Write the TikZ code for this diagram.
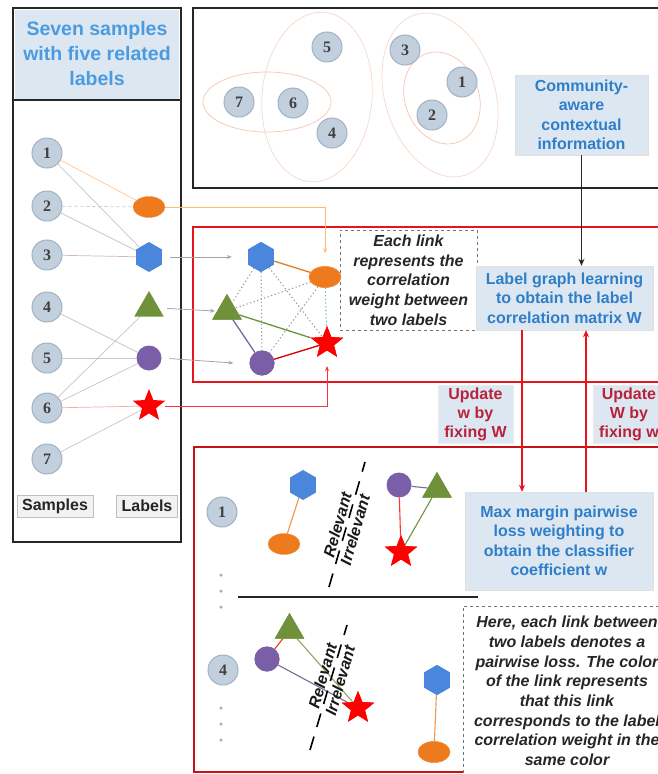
\documentclass[tikz,border=0pt]{standalone}
\usepackage{fontspec}
\setmainfont{Liberation Sans}
\newfontfamily\numfont{Liberation Serif}
\usetikzlibrary{shapes.geometric,arrows.meta}
\definecolor{hdrblue}{HTML}{4A9BE0}
\definecolor{txtblue}{HTML}{2F7FC8}
\definecolor{boxfill}{HTML}{DDE7F2}
\definecolor{sampfill}{HTML}{C2CFDC}
\definecolor{sampdraw}{HTML}{A0B2C4}
\definecolor{lorange}{HTML}{EE7A1E}
\definecolor{lblue}{HTML}{4A86DB}
\definecolor{lgreen}{HTML}{6F9139}
\definecolor{lpurple}{HTML}{7B5EA8}
\definecolor{lred}{HTML}{FF0000}
\definecolor{updred}{HTML}{B8233A}
\definecolor{boxred}{HTML}{E8141C}
\definecolor{ellA}{HTML}{F4C6B4}
\definecolor{ellB}{HTML}{F6D9CB}
\tikzset{
 samp/.style={circle,fill=sampfill,draw=sampdraw,line width=1pt,minimum size=30pt,inner sep=0pt,font=\numfont\bfseries\fontsize{16}{16}\selectfont,text=black!75},
 lo/.style={ellipse,fill=lorange,draw=lorange!80!white,minimum width=32pt,minimum height=21pt,inner sep=0pt},
 lh/.style={regular polygon,regular polygon sides=6,shape border rotate=30,fill=lblue,minimum size=30pt,inner sep=0pt},
 lt/.style={regular polygon,regular polygon sides=3,fill=lgreen,minimum size=34pt,inner sep=0pt},
 lc/.style={circle,fill=lpurple,minimum size=25pt,inner sep=0pt},
 ls/.style={star,star points=5,star point ratio=2.3,fill=lred,minimum size=34pt,inner sep=0pt},
 bluebox/.style={fill=boxfill,draw=black!12,text=txtblue,font=\bfseries\fontsize{16}{19.5}\selectfont,align=center,inner sep=0pt},
 updbox/.style={fill=boxfill,draw=black!8,text=updred,font=\bfseries\fontsize{16}{19}\selectfont,align=center,inner sep=0pt},
 note/.style={draw=black!55,dashed,fill=white,font=\bfseries\itshape\fontsize{16}{19.7}\selectfont,align=center,inner sep=0pt,text=black!85},
 tag/.style={fill=black!5,draw=black!25,font=\bfseries\fontsize{16}{16}\selectfont,inner xsep=5pt,inner ysep=0pt,minimum height=22pt,text=black!85},
 rot/.style={rotate=74,font=\bfseries\itshape\fontsize{16}{16}\selectfont,inner sep=0pt,text=black!90},
 thinl/.style={line width=0.7pt,gray!45},
 dotl/.style={line width=1.1pt,gray!80,dash pattern=on 1.2pt off 2.5pt},
 redln/.style={line width=1.8pt,boxred},
 relline/.style={line width=1.6pt,black,dash pattern=on 14pt off 10pt},
 tinyarrow/.style={-{Stealth[length=5pt,width=4pt]}},
 dotmark/.style={circle,fill=sampdraw,inner sep=0pt,minimum size=3.5pt}
}
\begin{document}
\begin{tikzpicture}[x=1pt,y=-1pt]
\useasboundingbox (0,0) rectangle (658,774);
\fill[white] (0,0) rectangle (658,774);

% ---------- frames ----------
\fill[boxfill] (15,10) rectangle (179,99);
\draw[line width=2.2pt,black!85] (13,8) rectangle (181,542);
\draw[line width=2.2pt,black!85] (13,100) -- (181,100);
\draw[line width=2.5pt,black!85] (193,8) rectangle (672,188);
\draw[line width=2.5pt,boxred] (193,227) rectangle (672,382);
\draw[line width=2.5pt,boxred!85!black] (194,447) rectangle (672,772);

% ---------- left panel ----------
\node[align=center,text=hdrblue,font=\bfseries\fontsize{19.5}{25}\selectfont] (hdr) at (97,54) {Seven samples\\with five related\\labels};

\node[samp] (s1) at (47,153) {1};
\node[samp] (s2) at (47,206) {2};
\node[samp] (s3) at (47,255) {3};
\node[samp] (s4) at (47,307) {4};
\node[samp] (s5) at (47,358) {5};
\node[samp] (s6) at (47,408) {6};
\node[samp] (s7) at (47,459) {7};

\node[lo] (Lo) at (149,207) {};
\node[lh] (Lh) at (149,257) {};
\node[lt] (Lt) at (149,308) {};
\node[lc] (Lc) at (149,358) {};
\node[ls] (Ls) at (149,406) {};

\draw[thinl,orange!45] (s1) -- (Lo);
\draw[thinl] (s1) -- (Lh);
\draw[thinl,dashed] (s2) -- (Lo);
\draw[thinl] (s2) -- (Lh);
\draw[thinl,red!25!gray!45] (s3) -- (Lh);
\draw[thinl] (s4) -- (Lc);
\draw[thinl] (s5) -- (Lc);
\draw[thinl] (s6) -- (Lt);
\draw[thinl] (s6) -- (Lc);
\draw[thinl,red!35] (s6) -- (Ls);
\draw[thinl] (s7) -- (Ls);

\node[tag] (samples) at (55,506) {Samples};
\node[tag] (labels) at (147,506) {Labels};

% ---------- top panel ----------
\draw[ellA,line width=0.7pt] (267,102) ellipse (64 and 30);
\draw[ellB,line width=0.7pt,rotate around={-5:(317,97)}] (317,97) ellipse (55 and 85);
\draw[ellB,line width=0.7pt,rotate around={17:(440,95)}] (440,95) ellipse (55 and 84);
\draw[ellA,line width=0.7pt,rotate around={20:(442,98)}] (442,98) ellipse (37 and 47);

\node[samp] (t5) at (327,47) {5};
\node[samp] (t3) at (405,50) {3};
\node[samp] (t1) at (462,82) {1};
\node[samp] (t7) at (239,102) {7};
\node[samp] (t6) at (293,103) {6};
\node[samp] (t2) at (432,115) {2};
\node[samp] (t4) at (332,133) {4};

\node[bluebox,minimum width=133pt,minimum height=80pt] (comm) at (581.5,115) {Community-\\aware\\contextual\\information};

% ---------- middle panel ----------
\node[note,minimum width=137pt,minimum height=100pt] (note1) at (408.5,280) {Each link\\represents the\\correlation\\weight between\\two labels};

\node[lh] (Mh) at (261,257) {};
\node[lo] (Mo) at (325,277) {};
\node[lt] (Mt) at (227,311) {};
\node[lc] (Mc) at (262,363) {};
\node[ls] (Ms) at (327,343) {};

\draw[dotl] (Mh) -- (Mt);
\draw[dotl] (Mh) -- (Mc);
\draw[dotl] (Mh) -- (Ms);
\draw[dotl] (Mo) -- (Mt);
\draw[dotl] (Mo) -- (Mc);
\draw[dotl,teal!60] (Mo) -- (Ms);
\draw[line width=1.3pt,lorange!80!brown] (Mh) -- (Mo);
\draw[line width=1.3pt,lgreen] (Mt) -- (Ms);
\draw[line width=1.3pt,lpurple!70!gray] (Mt) -- (Mc);
\draw[line width=1.3pt,red!85!black] (Mc) -- (Ms);
\node[lh] at (Mh) {};
\node[lo] at (Mo) {};
\node[lt] at (Mt) {};
\node[lc] at (Mc) {};
\node[ls] at (Ms) {};

% connectors labels -> middle panel
\draw[line width=0.8pt,orange!55,tinyarrow] (Lo.east) -| ([yshift=13pt]Mo.north);
\draw[line width=0.8pt,gray!70,tinyarrow,shorten <=8pt] (Lh.east) -- ([xshift=-16pt]Mh.west);
\draw[line width=0.8pt,gray!70,tinyarrow,shorten <=8pt] (Lt.east) -- ([xshift=-2pt]Mt.west);
\draw[line width=0.8pt,gray!70,tinyarrow,shorten <=8pt] (Lc.east) -- ([xshift=-16pt]Mc.west);
\draw[line width=0.8pt,red!80,tinyarrow,shorten <=6pt] (Ls.east) -| ([yshift=-23pt]Ms.center);

\node[bluebox,minimum width=177pt,minimum height=64pt] (lg) at (564.5,298) {Label graph learning\\to obtain the label\\correlation matrix W};
\draw[line width=1.4pt,black!85,-{Stealth[length=7pt,width=6pt]}] (comm.south) -- (comm.south |- lg.north);

% ---------- update boxes ----------
\node[updbox,minimum width=75pt,minimum height=58pt] (upl) at (475.5,414) {Update\\w by\\fixing W};
\node[updbox,minimum width=72pt,minimum height=58pt] (upr) at (629,414) {Update\\W by\\fixing w};

% ---------- bottom panel ----------
\node[bluebox,minimum width=188pt,minimum height=98pt] (mm) at (559,541) {Max margin pairwise\\loss weighting to\\obtain the classifier\\coefficient w};

\coordinate (xa) at (522,0);
\coordinate (xb) at (586,0);
\draw[redln,-{Stealth[length=7pt,width=6pt]}] (lg.south -| xa) -- (mm.north -| xa);
\draw[redln,-{Stealth[length=7pt,width=6pt]}] (mm.north -| xb) -- (lg.south -| xb);

% sample 1
\node[samp] (b1) at (222,512) {1};
\node[lh] (B1h) at (303,485) {};
\node[lo] (B1o) at (284,544) {};
\node[lc] (B1c) at (399,485) {};
\node[lt] (B1t) at (437,489) {};
\node[ls] (B1s) at (401,552) {};
\draw[line width=1.1pt,lorange!80] (B1h) -- (B1o);
\draw[line width=1.1pt,lpurple!60!gray] (B1c) -- (B1t);
\draw[line width=1.1pt,red!80] (B1c) -- (B1s);
\draw[line width=1.1pt,lgreen] (B1t) -- (B1s);
\node[lt] at (B1t) {};
\node[ls] at (B1s) {};

\coordinate (r1a) at (329,587);
\coordinate (r1b) at (365,462);
\draw[relline] (r1a) -- (r1b);
\node[rot,anchor=south] (rel1) at (343.3,526.6) {Relevant};
\node[rot,anchor=north] (irr1) at (349.1,528.2) {Irrelevant};

\node[dotmark] (d1) at (221,575) {};
\node[dotmark] (d2) at (221,591) {};
\node[dotmark] (d3) at (221,607) {};

\coordinate (hl1) at (238,597);
\coordinate (hl2) at (478,597);
\draw[line width=1.4pt,black!85] (hl1) -- (hl2);

% sample 4
\node[samp] (b4) at (223,670) {4};
\node[lt] (B2t) at (289.5,630) {};
\node[lc] (B2c) at (267,659) {};
\node[ls] (B2s) at (358,708) {};
\node[lh] (B2h) at (437,680) {};
\node[lo] (B2o) at (434,752) {};
\draw[line width=1.1pt,red!60!orange] (B2c) -- (B2t);
\draw[line width=1.1pt,lgreen!80] (B2t) -- (B2s);
\draw[line width=1.1pt,lpurple!70!gray] (B2c) -- (B2s);
\draw[line width=1.1pt,lorange!80] (B2h) -- (B2o);
\node[lt] at (B2t) {};
\node[lc] at (B2c) {};
\node[ls] at (B2s) {};
\node[lh] at (B2h) {};
\node[lo] at (B2o) {};

\coordinate (r2a) at (310,750);
\coordinate (r2b) at (347,625);
\draw[relline] (r2a) -- (r2b);
\node[rot,anchor=south] (rel2) at (328.4,677.2) {Relevant};
\node[rot,anchor=north] (irr2) at (334.2,679) {Irrelevant};

\node[dotmark] (d4) at (221,708) {};
\node[dotmark] (d5) at (221,724) {};
\node[dotmark] (d6) at (221,740) {};

\node[note,minimum width=208pt,minimum height=170pt] (note2) at (567,691) {Here, each link between\\two labels denotes a\\pairwise loss. The color\\of the link represents\\that this link\\corresponds to the label\\correlation weight in the\\same color};
\end{tikzpicture}
\end{document}
